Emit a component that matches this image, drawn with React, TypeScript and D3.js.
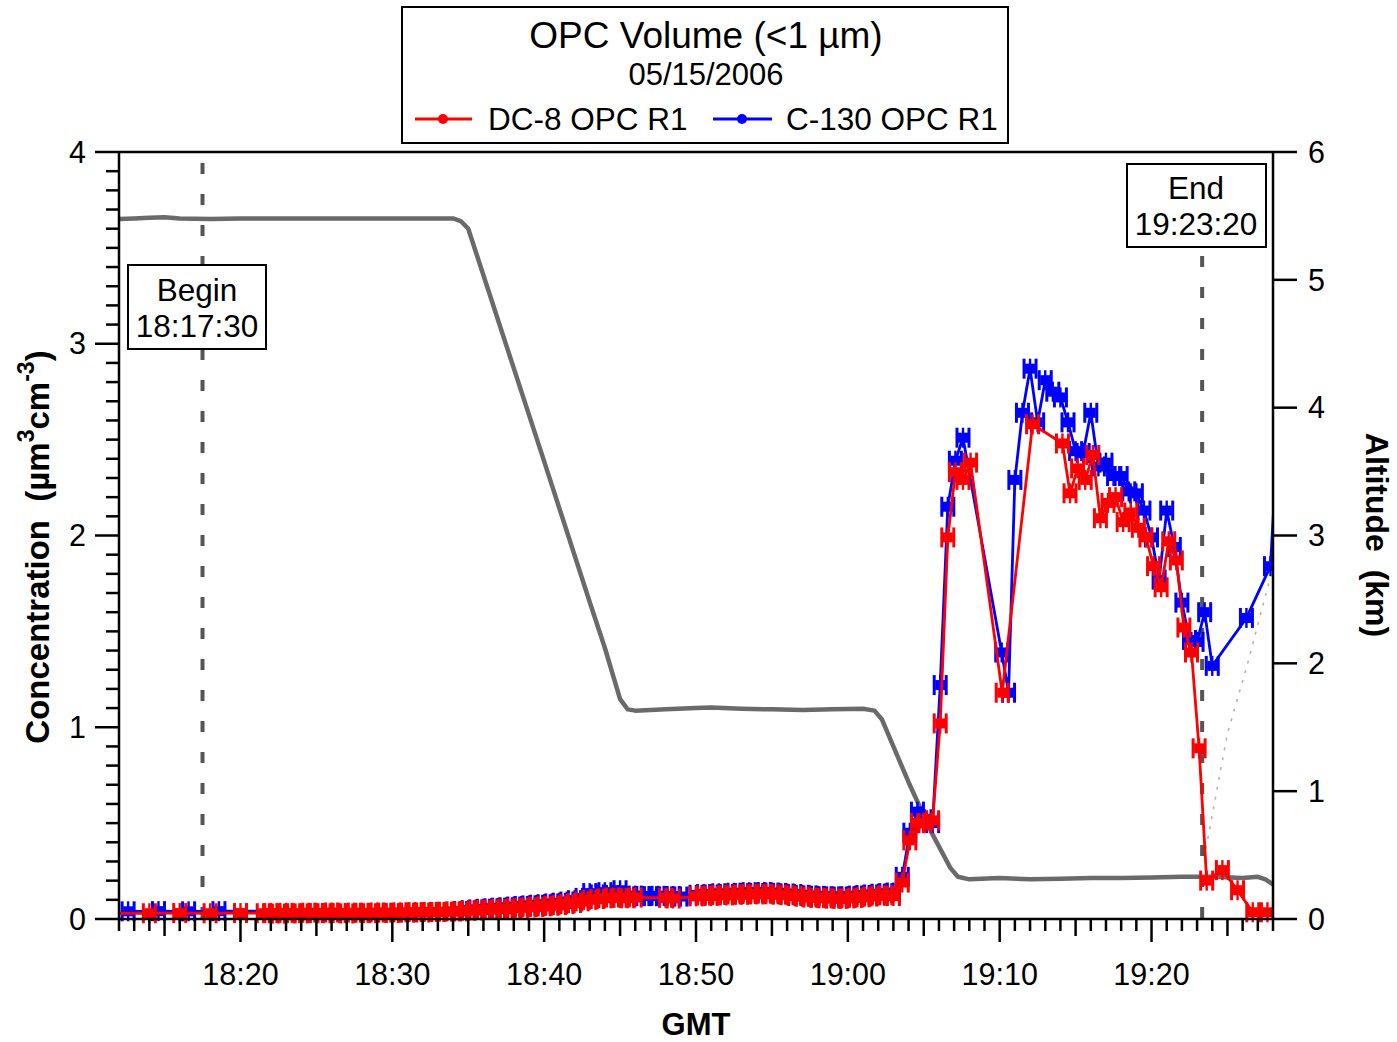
import React from 'react';
import * as d3 from 'd3';

// ---------- data ----------
const dc8Times = [
  '18:11:58', '18:14:00', '18:16:00', '18:18:00', '18:20:00',
  '18:21:30', '18:22:00', '18:22:30', '18:23:00', '18:23:30', '18:24:00', '18:24:30', '18:25:00', '18:25:30', '18:26:00',
  '18:26:30', '18:27:00', '18:27:30', '18:28:00', '18:28:30', '18:29:00', '18:29:30', '18:30:00', '18:30:30', '18:31:00',
  '18:31:30', '18:32:00', '18:32:30', '18:33:00', '18:33:30', '18:34:00', '18:34:30', '18:35:00', '18:35:30', '18:36:00',
  '18:36:30', '18:37:00', '18:37:30', '18:38:00', '18:38:30', '18:39:00', '18:39:30', '18:40:00', '18:40:30', '18:41:00',
  '18:41:30', '18:42:00', '18:42:30', '18:43:00', '18:43:30', '18:44:00', '18:44:30', '18:45:00', '18:45:30', '18:46:00',
  '18:48:00', '18:48:30',
  '18:50:00', '18:50:30', '18:51:00', '18:51:30', '18:52:00', '18:52:30', '18:53:00', '18:53:30', '18:54:00', '18:54:30',
  '18:55:00', '18:55:30', '18:56:00', '18:56:30', '18:57:00', '18:57:30', '18:58:00', '18:58:30', '18:59:00', '18:59:30',
  '19:00:00', '19:00:30', '19:01:00', '19:01:30', '19:02:00', '19:02:30', '19:03:00',
  '19:03:35', '19:04:05', '19:04:35', '19:05:05', '19:05:35', '19:06:05', '19:06:35', '19:07:05', '19:07:35', '19:08:05',
  '19:10:10', '19:12:10',
  '19:14:08', '19:14:38', '19:15:08', '19:15:38', '19:16:08', '19:16:38', '19:17:08', '19:17:38', '19:18:08', '19:18:38',
  '19:19:08', '19:19:38', '19:20:08', '19:20:38', '19:21:08', '19:21:38', '19:22:08', '19:22:38', '19:23:08', '19:23:38',
  '19:24:40', '19:25:40', '19:26:40', '19:27:38',
];
const dc8Conc = [
  0.030, 0.030, 0.031, 0.030, 0.031,
  0.030, 0.031, 0.028, 0.032, 0.030, 0.029, 0.033, 0.031, 0.030, 0.034,
  0.031, 0.029, 0.033, 0.032, 0.030, 0.034, 0.033, 0.031, 0.035, 0.033,
  0.036, 0.034, 0.037, 0.036, 0.038, 0.040, 0.039, 0.043, 0.044, 0.047,
  0.049, 0.052, 0.051, 0.056, 0.058, 0.061, 0.063, 0.066, 0.069, 0.072,
  0.078, 0.083, 0.092, 0.100, 0.104, 0.108, 0.112, 0.110, 0.108, 0.112,
  0.110, 0.107,
  0.118, 0.122, 0.120, 0.125, 0.123, 0.128, 0.126, 0.130, 0.128, 0.132,
  0.129, 0.127, 0.124, 0.120, 0.116, 0.112, 0.110, 0.108, 0.106, 0.105,
  0.107, 0.110, 0.113, 0.117, 0.121, 0.124, 0.120,
  0.19, 0.41, 0.50, 0.50, 0.515, 1.02, 1.99, 2.33, 2.29, 2.38,
  1.18, 2.58,
  2.48, 2.22, 2.35, 2.29, 2.42, 2.09, 2.17, 2.20, 2.07, 2.12,
  2.04, 1.99, 1.84, 1.73, 1.97, 1.87, 1.52, 1.39, 0.89, 0.20,
  0.255, 0.15, 0.035, 0.035,
];

const c130Times = [
  '18:12:36', '18:14:36', '18:16:35', '18:18:35',
  '18:34:30', '18:35:00', '18:35:30', '18:36:00', '18:36:30', '18:37:00', '18:37:30', '18:38:00', '18:38:30', '18:39:00',
  '18:39:30', '18:40:00', '18:40:30', '18:41:00', '18:41:30', '18:42:00', '18:42:30', '18:43:00', '18:43:30', '18:44:00',
  '18:44:30', '18:45:00', '18:45:30', '18:46:00', '18:46:30', '18:47:00', '18:47:30', '18:48:00', '18:48:30', '18:49:00',
  '18:50:00', '18:50:30', '18:51:00', '18:51:30', '18:52:00', '18:52:30', '18:53:00', '18:53:30', '18:54:00', '18:54:30',
  '18:55:00', '18:55:30', '18:56:00', '18:56:30', '18:57:00', '18:57:30', '18:58:00', '18:58:30', '18:59:00', '18:59:30',
  '19:00:00', '19:00:30', '19:01:00', '19:01:30', '19:02:00', '19:02:30', '19:03:00',
  '19:03:35', '19:04:05', '19:04:35', '19:05:05', '19:05:35', '19:06:05', '19:06:35', '19:07:05', '19:07:35',
  '19:10:08', '19:10:35', '19:11:00', '19:11:30', '19:12:00', '19:12:30', '19:13:00', '19:13:30', '19:14:00', '19:14:30',
  '19:15:00', '19:15:30', '19:16:00', '19:16:30', '19:17:00', '19:17:30', '19:18:00', '19:18:30', '19:19:00', '19:19:30',
  '19:20:00', '19:20:30', '19:21:00', '19:21:30', '19:22:00', '19:22:30', '19:23:00', '19:23:30', '19:24:00',
  '19:26:15', '19:27:50', '19:28:20',
];
const c130Conc = [
  0.040, 0.041, 0.040, 0.041,
  0.042, 0.046, 0.050, 0.053, 0.056, 0.059, 0.061, 0.065, 0.068, 0.071,
  0.074, 0.077, 0.081, 0.085, 0.091, 0.098, 0.110, 0.135, 0.128, 0.140,
  0.125, 0.150, 0.118, 0.122, 0.120, 0.119, 0.121, 0.118, 0.120, 0.117,
  0.126, 0.130, 0.128, 0.134, 0.131, 0.137, 0.135, 0.140, 0.136, 0.141,
  0.138, 0.136, 0.133, 0.130, 0.126, 0.123, 0.121, 0.119, 0.118, 0.117,
  0.119, 0.122, 0.125, 0.128, 0.132, 0.135, 0.138,
  0.22, 0.45, 0.56, 0.52, 0.50, 1.22, 2.15, 2.39, 2.51,
  1.39, 1.18, 2.29, 2.64, 2.87, 2.59, 2.81, 2.75, 2.72, 2.59,
  2.44, 2.43, 2.64, 2.36, 2.38, 2.31, 2.31, 2.23, 2.22, 2.13,
  1.99, 1.77, 2.13, 1.94, 1.65, 1.455, 1.445, 1.60, 1.32,
  1.57, 1.84, 2.55,
];

const altTimes = [
  '18:12:00', '18:13:00', '18:14:00', '18:15:00', '18:16:00', '18:18:00', '18:20:00', '18:22:00', '18:24:00',
  '18:26:00', '18:28:00', '18:30:00', '18:32:00', '18:34:00', '18:34:30', '18:35:00', '18:40:00', '18:43:00',
  '18:44:00', '18:45:00', '18:45:30', '18:46:00', '18:48:00', '18:50:00', '18:51:00', '18:53:00', '18:55:00',
  '18:57:00', '18:59:00', '19:01:00', '19:01:45', '19:02:15', '19:04:00', '19:05:30', '19:06:45', '19:07:15',
  '19:08:00', '19:10:00', '19:12:00', '19:14:00', '19:16:00', '19:18:00', '19:20:00', '19:22:00', '19:24:00',
  '19:26:00', '19:27:00', '19:27:30', '19:28:00',
];
const altKm = [
  5.475, 5.48, 5.485, 5.49, 5.48, 5.475, 5.48, 5.48, 5.48,
  5.48, 5.48, 5.48, 5.48, 5.48, 5.46, 5.40, 3.58, 2.48,
  2.12, 1.72, 1.64, 1.63, 1.64, 1.65, 1.655, 1.645, 1.64,
  1.635, 1.64, 1.645, 1.63, 1.56, 1.07, 0.68, 0.40, 0.33,
  0.31, 0.32, 0.31, 0.315, 0.32, 0.32, 0.325, 0.33, 0.33,
  0.32, 0.33, 0.31, 0.27,
];

const c130AltTimes = ['19:23:35', '19:25:00', '19:26:20', '19:27:50'];
const c130AltKm = [0.55, 1.45, 2.0, 2.68];

const leftTicks = [0, 1, 2, 3, 4];
const rightTicks = [0, 1, 2, 3, 4, 5, 6];
const beginTime = '18:17:30';
const endTime = '19:23:20';

// ---------- helpers ----------
const toDate = (s: string) => {
  const [h, m, sec] = s.split(':').map(Number);
  return new Date(Date.UTC(2006, 4, 15, h, m, sec));
};

const FONT = '"Liberation Sans", Arial, Helvetica, sans-serif';
const RED = '#ff0000';
const BLUE = '#0000ff';

const L = 119, R = 1273, T = 152, B = 919;

const x = d3.scaleUtc().domain([toDate('18:12:00'), toDate('19:28:00')]).range([L, R]);
const yL = d3.scaleLinear().domain([0, 4]).range([B, T]);
const yR = d3.scaleLinear().domain([0, 6]).range([B, T]);

type Pt = [Date, number];
const zip = (ts: string[], vs: number[]): Pt[] => ts.map((t, i) => [toDate(t), vs[i]]);

const dc8 = zip(dc8Times, dc8Conc);
const c130 = zip(c130Times, c130Conc);
const alt = zip(altTimes, altKm);
const c130Alt = zip(c130AltTimes, c130AltKm);

const lineL = d3.line<Pt>().x(d => x(d[0])).y(d => yL(d[1]));
const lineR = d3.line<Pt>().x(d => x(d[0])).y(d => yR(d[1]));

function Marker({ cx, cy, color }: { cx: number; cy: number; color: string }) {
  return (
    <g transform={`translate(${cx},${cy})`} stroke={color} strokeWidth={3} fill={color}>
      <rect x={-5} y={-5} width={10} height={10} stroke="none" />
      <line x1={-6} x2={-6} y1={-10} y2={10} />
      <line x1={6} x2={6} y1={-10} y2={10} />
      <line x1={0} x2={0} y1={-10} y2={10} strokeWidth={2.4} />
    </g>
  );
}

function Series({ data, color }: { data: Pt[]; color: string }) {
  const [d0, d1] = x.domain();
  const visible = data.filter(d => d[0] >= d0 && d[0] <= d1);
  return (
    <g>
      <path d={lineL(data) || ''} fill="none" stroke={color} strokeWidth={2.8} />
      {visible.map((d, i) => (
        <Marker key={i} cx={x(d[0])} cy={yL(d[1])} color={color} />
      ))}
    </g>
  );
}

export default function App() {
  const minuteTicks = x.ticks(d3.utcMinute.every(1) as any);
  const labelTicks = x.ticks(d3.utcMinute.every(10) as any);
  const fmt = d3.utcFormat('%H:%M');
  const minorY = yL.ticks(40);
  const xb = x(toDate(beginTime));
  const xe = x(toDate(endTime));

  return (
    <svg width={1397} height={1042} style={{ position: 'absolute', left: 0, top: 0, background: '#fff' }}
      fontFamily={FONT}>
      <defs>
        <clipPath id="plotclip">
          <rect x={L} y={0} width={R - L} height={1042} />
        </clipPath>
      </defs>
      <rect x={0} y={0} width={1397} height={1042} fill="#fff" />

      {/* dashed begin/end lines */}
      <line x1={xb} x2={xb} y1={163} y2={B} stroke="#555" strokeWidth={4} strokeDasharray="11,20" />
      <line x1={xe} x2={xe} y1={163} y2={B} stroke="#555" strokeWidth={4} strokeDasharray="11,20" />

      <g clipPath="url(#plotclip)">
        {/* altitude */}
        <path d={lineR(alt) || ''} fill="none" stroke="#6a6a6a" strokeWidth={4.5} strokeLinejoin="round" />
        <path d={lineR(c130Alt) || ''} fill="none" stroke="#b4b4b4" strokeWidth={1.6} strokeDasharray="3,7" />
        <Series data={c130} color={BLUE} />
        <Series data={dc8} color={RED} />
      </g>

      {/* axes frame */}
      <g stroke="#000" strokeWidth={2.5} fill="none">
        <line x1={L} x2={L} y1={T} y2={B} />
        <line x1={R} x2={R} y1={T} y2={B} />
        <line x1={L} x2={R} y1={T} y2={T} />
        <line x1={L} x2={R} y1={B} y2={B} />
        {minorY.map((v, i) => {
          const major = Math.abs(v - Math.round(v)) < 1e-6;
          return <line key={'ly' + i} x1={L - (major ? 24 : 13)} x2={L} y1={yL(v)} y2={yL(v)} />;
        })}
        {rightTicks.map(v => (
          <line key={'ry' + v} x1={R} x2={R + 24} y1={yR(v)} y2={yR(v)} />
        ))}
        {minuteTicks.map((d, i) => {
          const m = d.getUTCMinutes();
          const len = m % 10 === 0 ? 23 : m % 5 === 0 ? 17 : 12;
          return <line key={'xt' + i} x1={x(d)} x2={x(d)} y1={B} y2={B + len} />;
        })}
      </g>

      {/* tick labels */}
      <g fontSize={30.5} fill="#000">
        {leftTicks.map(v => (
          <text key={'lt' + v} x={86} y={yL(v)} dy="0.35em" textAnchor="end">{v}</text>
        ))}
        {rightTicks.map(v => (
          <text key={'rt' + v} x={1308} y={yR(v)} dy="0.35em" textAnchor="start">{v}</text>
        ))}
        {labelTicks.map((d, i) => (
          <text key={'xl' + i} x={x(d)} y={985} textAnchor="middle">{fmt(d)}</text>
        ))}
      </g>

      {/* axis titles */}
      <text x={696} y={1035} textAnchor="middle" fontSize={31} fontWeight="bold">GMT</text>
      <text transform="translate(49,547) rotate(-90)" textAnchor="middle" fontSize={33} fontWeight="bold"
        style={{ whiteSpace: 'pre' }}>
        <tspan>{'Concentration  (µm'}</tspan>
        <tspan fontSize={23} dy={-15}>3</tspan>
        <tspan dy={15}>cm</tspan>
        <tspan fontSize={23} dy={-15}>-3</tspan>
        <tspan dy={15}>)</tspan>
      </text>
      <text transform="translate(1366,535) rotate(90)" textAnchor="middle" fontSize={32} fontWeight="bold"
        style={{ whiteSpace: 'pre' }}>{'Altitude  (km)'}</text>

      {/* Begin box */}
      <g>
        <rect x={128} y={265} width={138} height={84} fill="#fff" stroke="#000" strokeWidth={2} />
        <text x={197} y={301} textAnchor="middle" fontSize={31.5}>Begin</text>
        <text x={197} y={337} textAnchor="middle" fontSize={31.5}>{beginTime}</text>
      </g>
      {/* End box */}
      <g>
        <rect x={1127} y={164} width={139} height={83} fill="#fff" stroke="#000" strokeWidth={2} />
        <text x={1196} y={199} textAnchor="middle" fontSize={31.5}>End</text>
        <text x={1196} y={235} textAnchor="middle" fontSize={31.5}>{endTime}</text>
      </g>

      {/* legend */}
      <g>
        <rect x={402} y={7} width={606} height={136} fill="#fff" stroke="#000" strokeWidth={2} />
        <text x={706} y={48} textAnchor="middle" fontSize={37}>OPC Volume (&lt;1 µm)</text>
        <text x={706} y={85} textAnchor="middle" fontSize={31}>05/15/2006</text>
        <line x1={415} x2={472} y1={119} y2={119} stroke={RED} strokeWidth={2.8} />
        <circle cx={443} cy={119} r={5} fill={RED} />
        <text x={488} y={130} fontSize={31.5}>DC-8 OPC R1</text>
        <line x1={713} x2={772} y1={119} y2={119} stroke={BLUE} strokeWidth={2.8} />
        <circle cx={742} cy={119} r={5} fill={BLUE} />
        <text x={786} y={130} fontSize={31.5}>C-130 OPC R1</text>
      </g>
    </svg>
  );
}
